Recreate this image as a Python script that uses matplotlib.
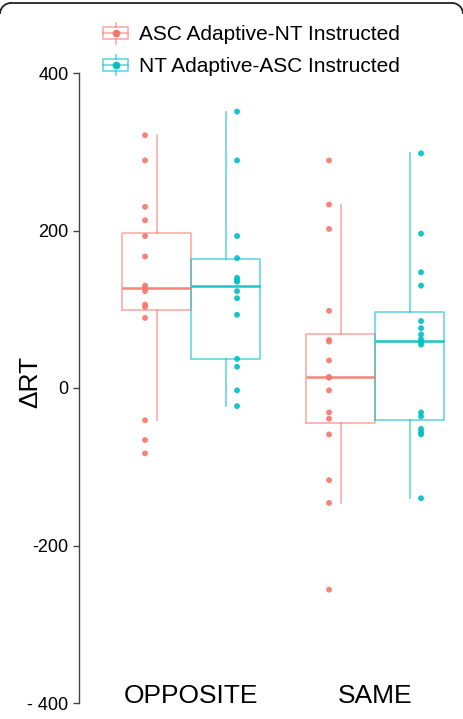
import matplotlib
matplotlib.use("Agg")
import matplotlib.pyplot as plt
from matplotlib.lines import Line2D
from matplotlib.patches import Rectangle, Arc
from matplotlib.legend_handler import HandlerBase

plt.rcParams["font.family"] = ["Liberation Sans", "DejaVu Sans"]

# categories and groups
categories = ["OPPOSITE", "SAME"]
groups = ["ASC Adaptive-NT Instructed", "NT Adaptive-ASC Instructed"]
colors = ["#F8766D", "#00BFC4"]

# raw points
opp_asc = [321, 289, 230, 213, 193, 167, 130, 127, 123, 106, 103, 89, -41, -66, -83]
opp_nt = [351, 289, 193, 165, 140, 137, 135, 123, 114, 93, 37, 27, -3, -23]
same_asc = [289, 233, 202, 98, 61, 59, 35, 14, 13, -3, -31, -39, -59, -117, -146, -256]
same_nt = [298, 196, 147, 130, 85, 76, 68, 62, 58, 55, -31, -36, -52, -56, -59, -140]

# box summaries (whisker low, q1, median, q3, whisker high) per group, per category
asc_whislo = [-41, -146]
asc_q1 = [99, -44]
asc_med = [127, 14]
asc_q3 = [197, 69]
asc_whishi = [321, 233]

nt_whislo = [-23, -140]
nt_q1 = [37, -41]
nt_med = [130, 60]
nt_q3 = [164, 96]
nt_whishi = [351, 298]

yticks = [-400, -200, 0, 200, 400]
yticklabels = ["- 400", "-200", "0", "200", "400"]

W, H = 463, 719
fig = plt.figure(figsize=(W / 100, H / 100), dpi=100)
ax = fig.add_axes([79 / W, 16 / H, (W - 79) / W, (703 - 73) / H])

series = [
    (0, [opp_asc, same_asc], asc_whislo, asc_q1, asc_med, asc_q3, asc_whishi),
    (1, [opp_nt, same_nt], nt_whislo, nt_q1, nt_med, nt_q3, nt_whishi),
]
xpos = [1, 2]
for gi, pts, wlo, q1, med, q3, whi in series:
    col = colors[gi]
    off = -0.1875 if gi == 0 else 0.1875
    stats = []
    for ci in range(len(categories)):
        stats.append(dict(whislo=wlo[ci], q1=q1[ci], med=med[ci], q3=q3[ci],
                          whishi=whi[ci], fliers=[]))
    ax.bxp(stats, positions=[p + off for p in xpos], widths=0.375,
           showcaps=False, showfliers=False, patch_artist=False,
           boxprops=dict(color=col, alpha=0.6, lw=1.2),
           whiskerprops=dict(color=col, alpha=0.6, lw=1.2),
           medianprops=dict(color=col, alpha=0.9, lw=1.8))
    poff = -0.25 if gi == 0 else 0.25
    for ci, vals in enumerate(pts):
        ax.scatter([xpos[ci] + poff] * len(vals), vals, s=18, color=col,
                   alpha=0.9, edgecolor="none", zorder=3)

ax.set_xlim(0.391, 2.478)
ax.set_ylim(-400, 400)
for s in ["top", "right", "bottom"]:
    ax.spines[s].set_visible(False)
ax.spines["left"].set_color("#444444")
ax.spines["left"].set_linewidth(1.0)
ax.set_xticks([])
ax.set_yticks(yticks)
ax.set_yticklabels(yticklabels, fontsize=13)
ax.tick_params(axis="y", length=4.5, width=1.0, color="#444444", pad=3)

fig.text(30 / W, 1 - 382 / H, "ΔRT", rotation=90, ha="center", va="center",
         fontsize=19)

for ci, name in enumerate(categories):
    ax.text(xpos[ci], -400, name, ha="center", va="baseline", fontsize=19)


class BoxHandler(HandlerBase):
    def create_artists(self, legend, orig_handle, xdescent, ydescent,
                       width, height, fontsize, trans):
        col = orig_handle.get_color()
        x0, y0 = -xdescent, -ydescent
        cx, cy = x0 + width / 2, y0 + height / 2
        bh = height * 0.58
        box = Rectangle((x0, cy - bh / 2), width, bh, fill=False,
                        edgecolor=col, alpha=0.6, lw=1.2, transform=trans)
        mid = Line2D([x0, x0 + width], [cy, cy], color=col, alpha=0.6,
                     lw=1.2, transform=trans)
        wt = Line2D([cx, cx], [cy + bh / 2, y0 + height], color=col,
                    alpha=0.6, lw=1.2, transform=trans)
        wb = Line2D([cx, cx], [y0, cy - bh / 2], color=col, alpha=0.6,
                    lw=1.2, transform=trans)
        dot = Line2D([cx], [cy], marker="o", ms=4.5, color=col, lw=0,
                     transform=trans)
        return [box, mid, wt, wb, dot]


handles = [Line2D([], [], color=c) for c in colors]
fig.legend(handles, groups, loc="upper left",
           bbox_to_anchor=(103 / W, 1 - 23 / H), frameon=False,
           fontsize=15, handlelength=1.2, handleheight=1.15,
           handletextpad=0.55, labelspacing=0.5, borderpad=0,
           borderaxespad=0, handler_map={Line2D: BoxHandler()})

# rounded frame around the figure (only its top edge is in view)
r = 11 / 100
ytop = (H - 3) / 100
frame_kw = dict(transform=fig.dpi_scale_trans, color="#222222", lw=1.3)
fig.add_artist(Line2D([r, W / 100 - r], [ytop, ytop], **frame_kw))
fig.add_artist(Arc((r, ytop - r), 2 * r, 2 * r, theta1=90, theta2=180,
                   **frame_kw))
fig.add_artist(Arc((W / 100 - r, ytop - r), 2 * r, 2 * r, theta1=0,
                   theta2=90, **frame_kw))

fig.savefig("out.png", dpi=100)
